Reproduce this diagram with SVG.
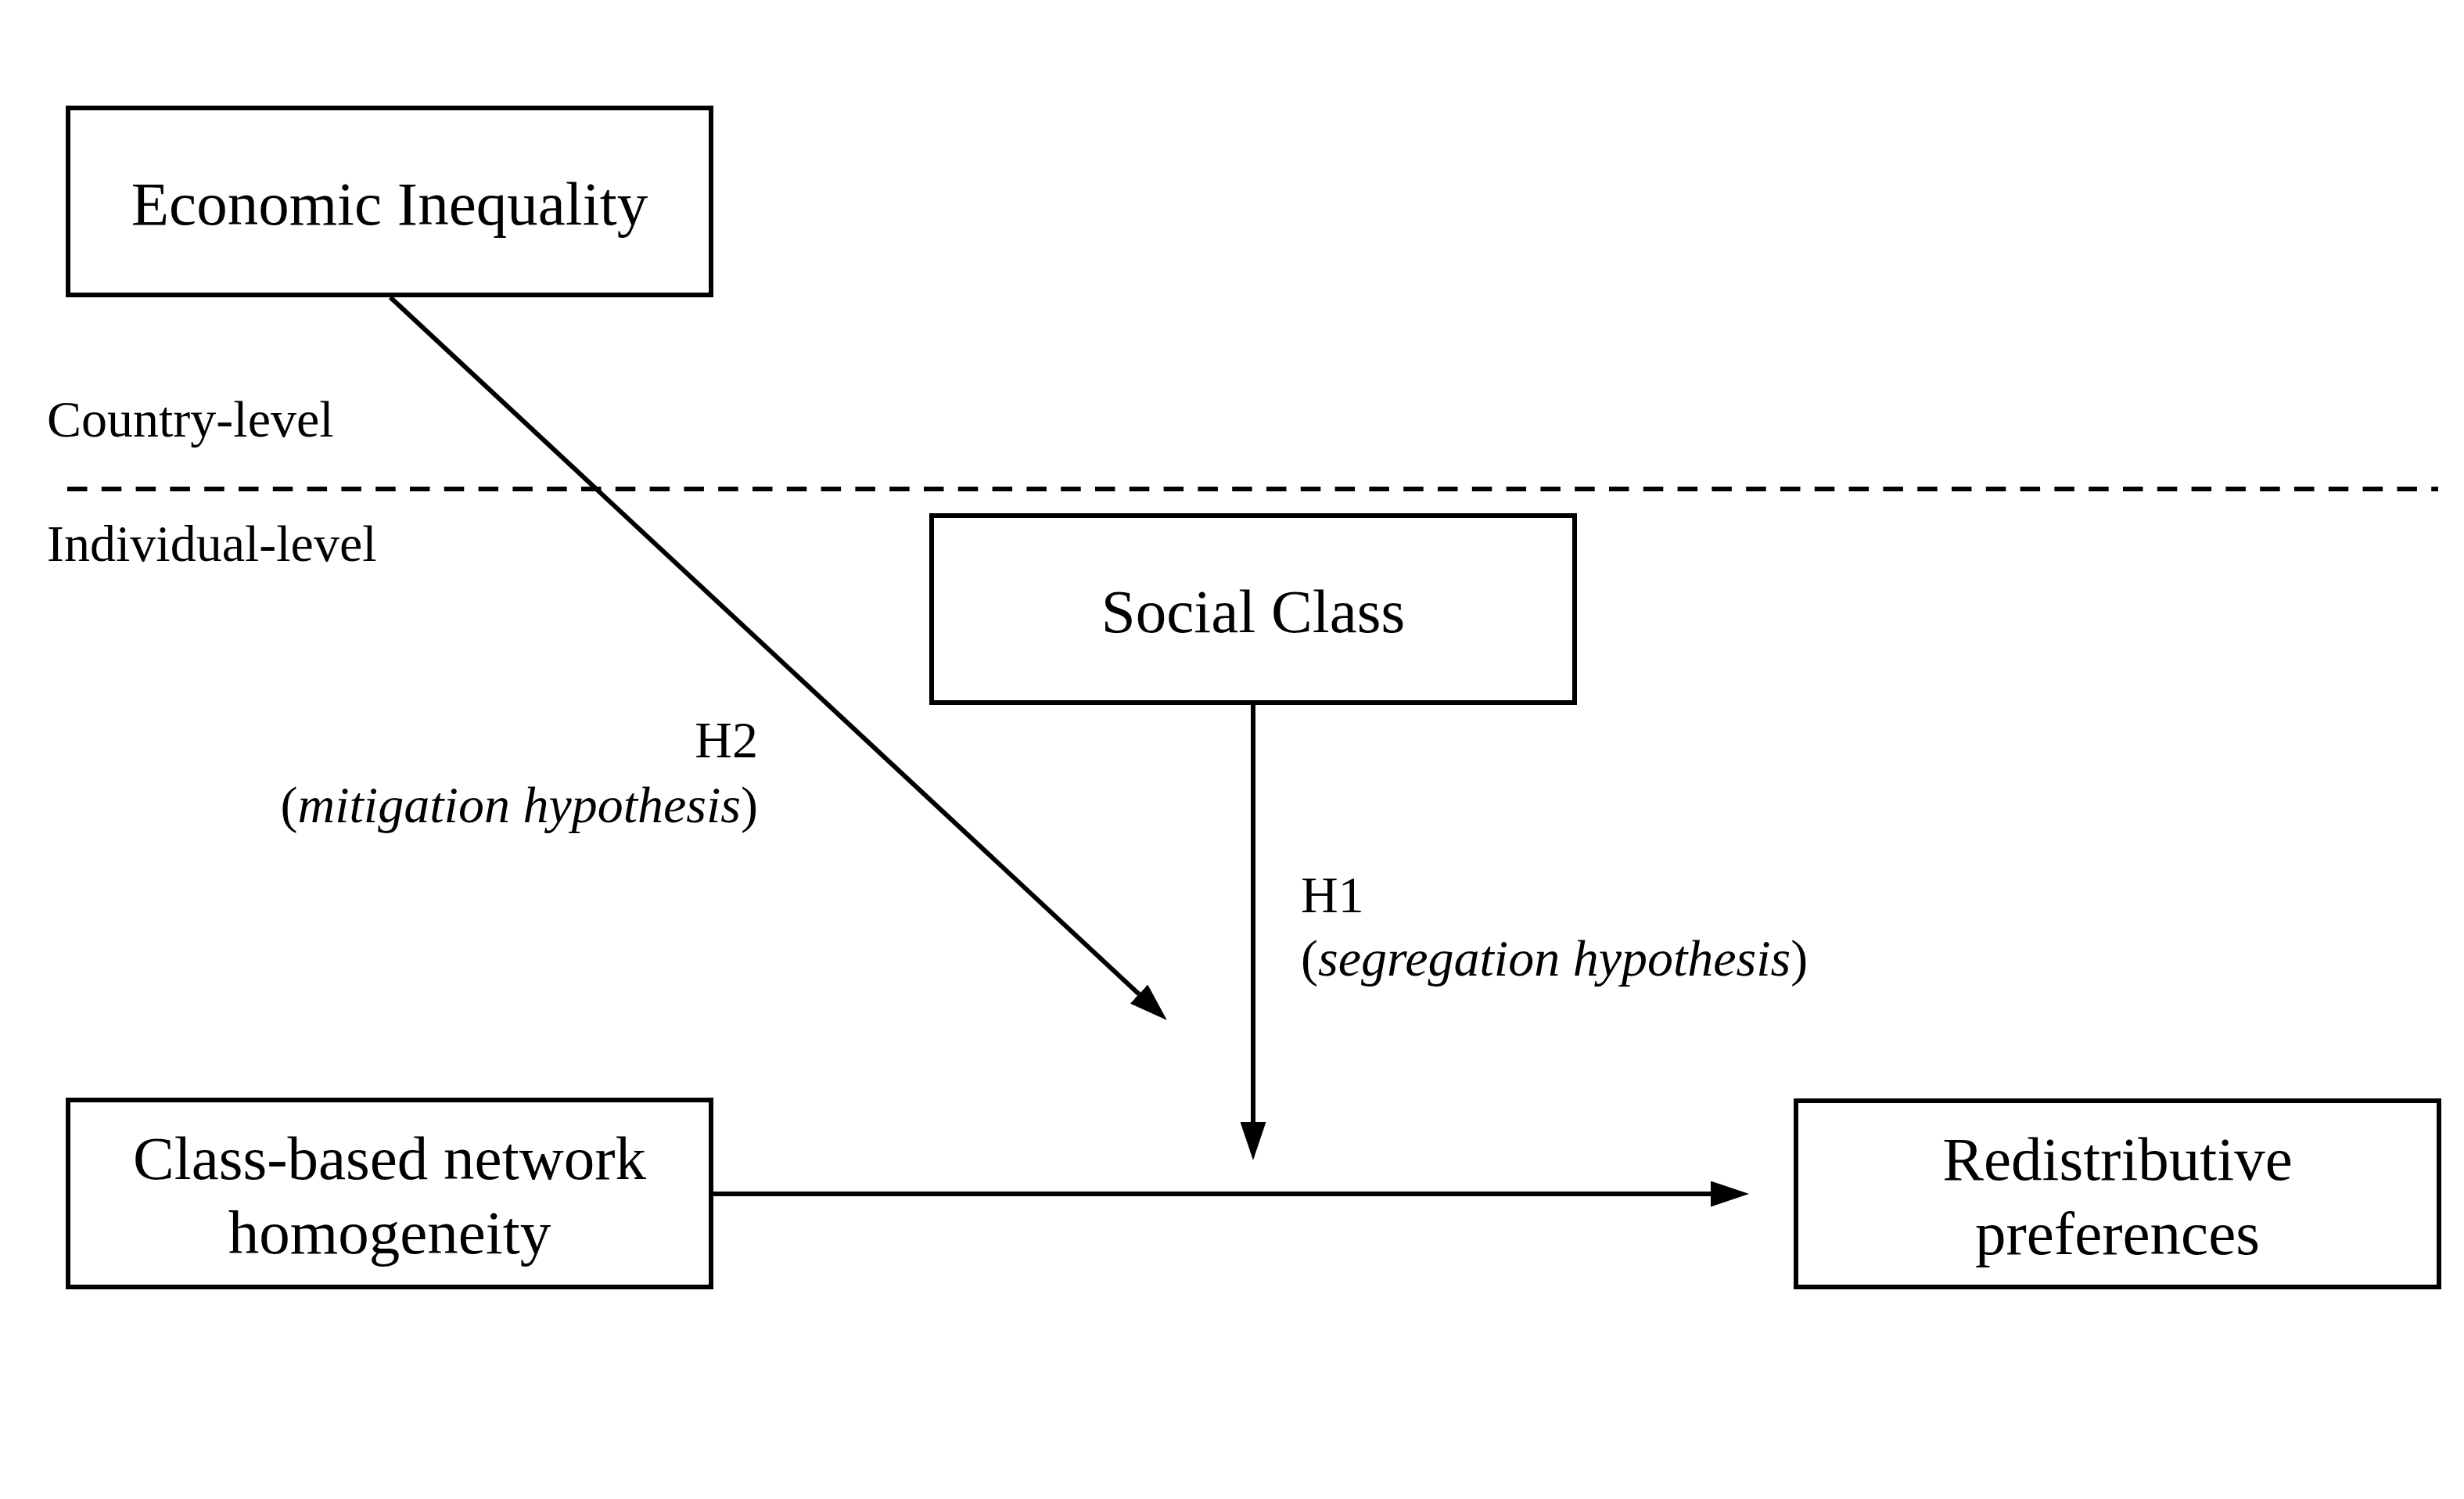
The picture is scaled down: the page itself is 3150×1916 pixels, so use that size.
<svg xmlns="http://www.w3.org/2000/svg" width="3150" height="1916" viewBox="0 0 3150 1916">
<style>
.box{fill:#fff;stroke:#000;stroke-width:6}
.t{font-family:"Liberation Serif","Times New Roman",serif;fill:#000}
.big{font-size:79px;text-anchor:middle}
.lab{font-size:66px}
.conn{stroke:#000;stroke-width:6;fill:none}
</style>
<defs>
<marker id="ah" viewBox="0 -16.5 49 33" refX="0" refY="0" markerWidth="49" markerHeight="33" markerUnits="userSpaceOnUse" orient="auto">
<path d="M0,-16.5 L49,0 L0,16.5 z" fill="#000"/>
</marker>
</defs>
<rect width="3150" height="1916" fill="#fff"/>
<g id="levels">
<line x1="86" y1="625" x2="3117" y2="625" stroke="#000" stroke-width="6" stroke-dasharray="25.5 18.3"/>
<text class="t lab" x="60" y="558">Country-level</text>
<text class="t lab" x="60" y="717">Individual-level</text>
</g>
<g id="connectors">
<line class="conn" x1="499" y1="380" x2="1456" y2="1270.6" marker-end="url(#ah)"/>
<line class="conn" x1="1602" y1="901" x2="1602" y2="1434" marker-end="url(#ah)"/>
<line class="conn" x1="912" y1="1526" x2="2187" y2="1526" marker-end="url(#ah)"/>
</g>
<g id="h2-label">
<text class="t lab" x="969" y="968" text-anchor="end">H2</text>
<text class="t lab" x="969" y="1051" text-anchor="end">(<tspan font-style="italic">mitigation hypothesis</tspan>)</text>
</g>
<g id="h1-label">
<text class="t lab" x="1663" y="1166">H1</text>
<text class="t lab" x="1663" y="1247">(<tspan font-style="italic">segregation hypothesis</tspan>)</text>
</g>
<g id="economic-inequality">
<rect class="box" x="87" y="138" width="822" height="239"/>
<text class="t big" x="498" y="287">Economic Inequality</text>
</g>
<g id="social-class">
<rect class="box" x="1191" y="659" width="822" height="239"/>
<text class="t big" x="1602" y="808">Social Class</text>
</g>
<g id="class-based-network-homogeneity">
<rect class="box" x="87" y="1406" width="822" height="239"/>
<text class="t big" x="498" y="1507">Class-based network</text>
<text class="t big" x="498" y="1602">homogeneity</text>
</g>
<g id="redistributive-preferences">
<rect class="box" x="2296" y="1407" width="822" height="238"/>
<text class="t big" x="2707" y="1508">Redistributive</text>
<text class="t big" x="2707" y="1603">preferences</text>
</g>
</svg>
